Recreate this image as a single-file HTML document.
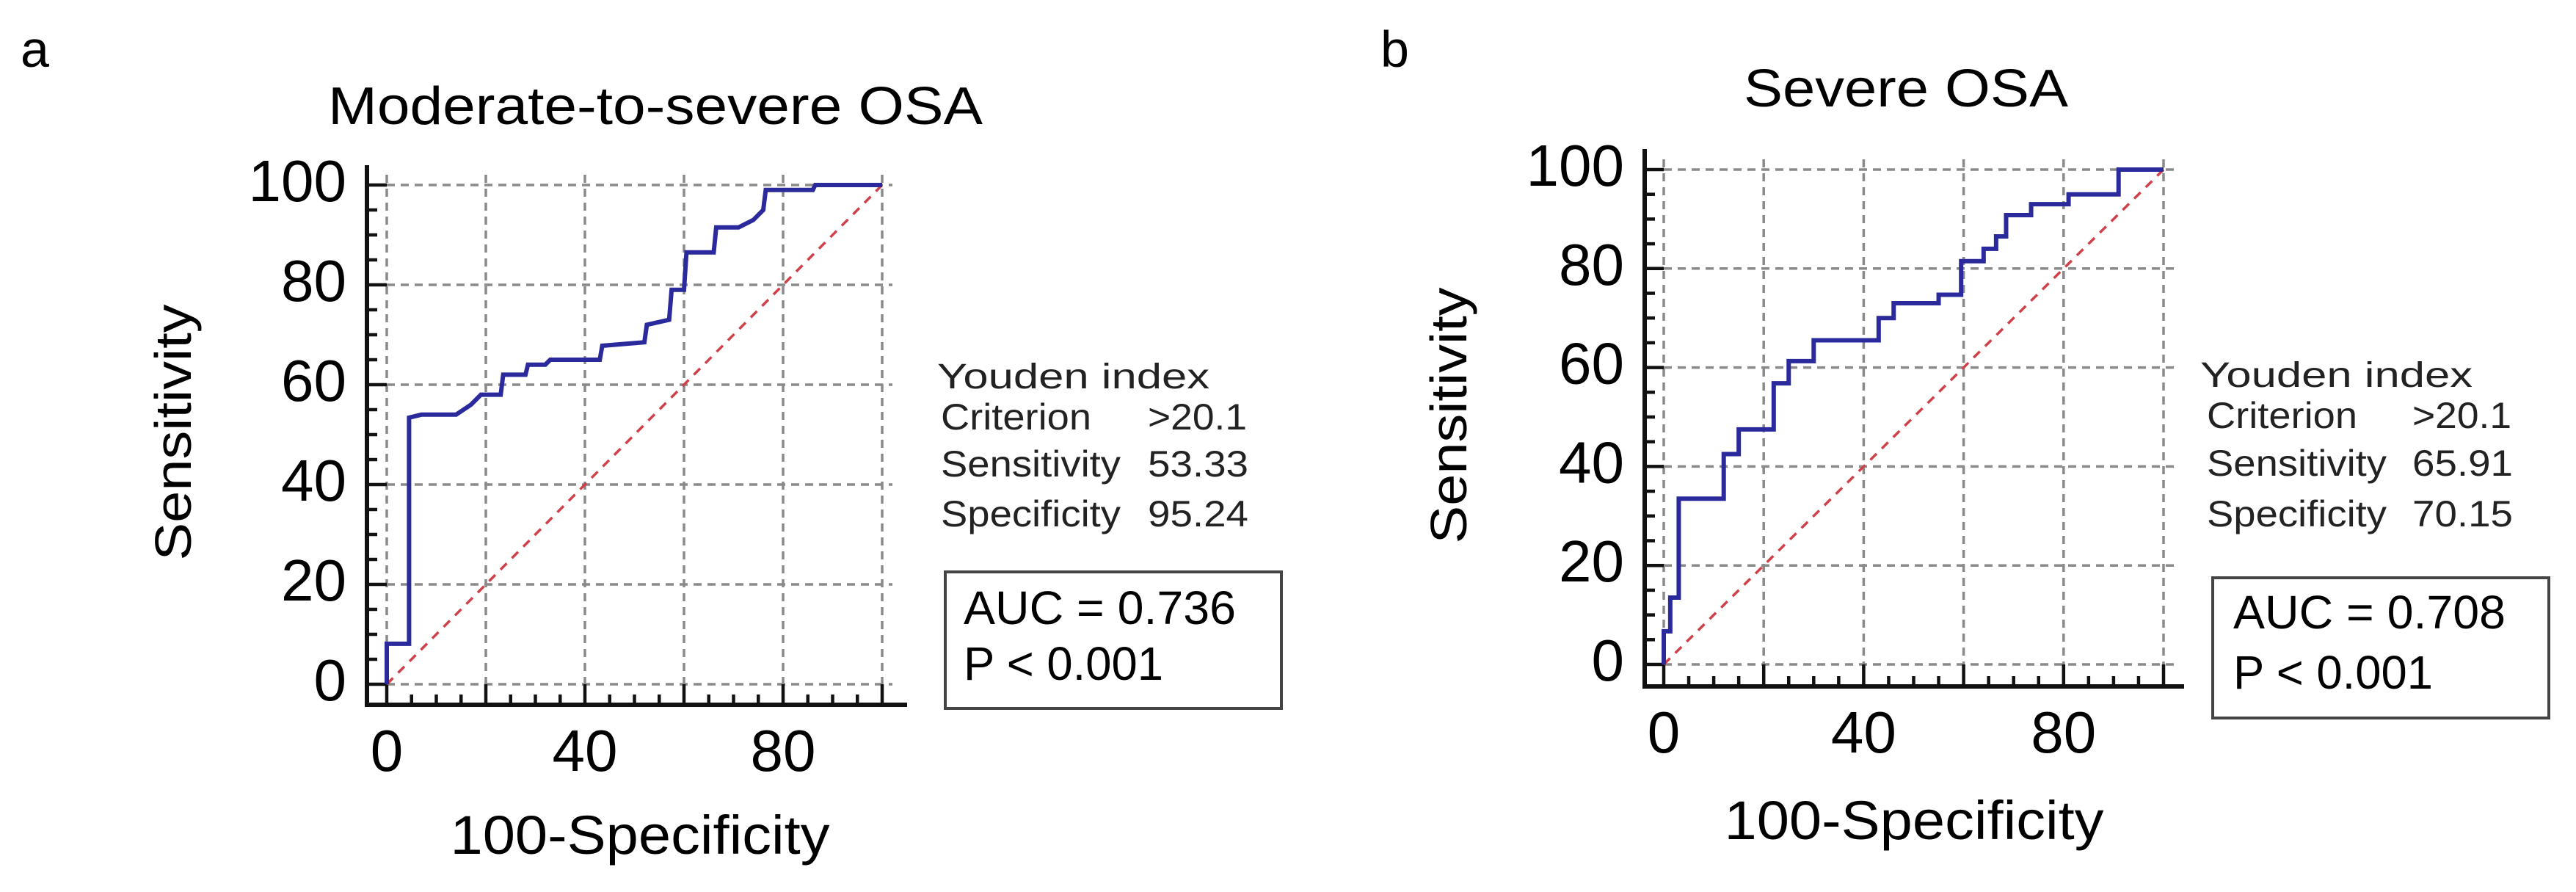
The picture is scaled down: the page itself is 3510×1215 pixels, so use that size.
<!DOCTYPE html>
<html><head><meta charset="utf-8"><style>
html,body{margin:0;padding:0;background:#fff;}
svg{display:block;font-family:"Liberation Sans",Arial,sans-serif;}
</style></head><body>
<svg id="fig" width="3510" height="1215" viewBox="0 0 3510 1215">
<rect width="3510" height="1215" fill="#fff"/>
<text x="28" y="91" font-size="70">a</text>
<text x="447" y="169" font-size="72" textLength="892" lengthAdjust="spacingAndGlyphs">Moderate-to-severe OSA</text>
<text transform="translate(260,589) rotate(-90)" text-anchor="middle" font-size="70" textLength="349" lengthAdjust="spacingAndGlyphs">Sensitivity</text>
<text x="872" y="1163" text-anchor="middle" font-size="74" textLength="517" lengthAdjust="spacingAndGlyphs">100-Specificity</text>
<g fill="#222">
<text x="1277" y="529" font-size="48" textLength="371" lengthAdjust="spacingAndGlyphs">Youden index</text>
<text x="1282" y="585" font-size="50" textLength="205" lengthAdjust="spacingAndGlyphs">Criterion</text>
<text x="1564" y="585" font-size="50" textLength="135" lengthAdjust="spacingAndGlyphs">&gt;20.1</text>
<text x="1282" y="649" font-size="50" textLength="245" lengthAdjust="spacingAndGlyphs">Sensitivity</text>
<text x="1564" y="649" font-size="50" textLength="137" lengthAdjust="spacingAndGlyphs">53.33</text>
<text x="1282" y="717" font-size="50" textLength="245" lengthAdjust="spacingAndGlyphs">Specificity</text>
<text x="1564" y="717" font-size="50" textLength="137" lengthAdjust="spacingAndGlyphs">95.24</text>
</g>
<g>
<rect x="1288" y="779" width="458" height="186" fill="none" stroke="#444" stroke-width="4"/>
<text x="1313" y="850" font-size="64" textLength="371" lengthAdjust="spacingAndGlyphs">AUC = 0.736</text>
<text x="1313" y="926" font-size="64" textLength="272" lengthAdjust="spacingAndGlyphs">P &lt; 0.001</text>
</g>
<text x="1881" y="91" font-size="70">b</text>
<text x="2376" y="145" font-size="72" textLength="442" lengthAdjust="spacingAndGlyphs">Severe OSA</text>
<text transform="translate(1998,566) rotate(-90)" text-anchor="middle" font-size="70" textLength="349" lengthAdjust="spacingAndGlyphs">Sensitivity</text>
<text x="2608" y="1143" text-anchor="middle" font-size="74" textLength="517" lengthAdjust="spacingAndGlyphs">100-Specificity</text>
<g fill="#222">
<text x="2998" y="527" font-size="48" textLength="371" lengthAdjust="spacingAndGlyphs">Youden index</text>
<text x="3007" y="583" font-size="50" textLength="205" lengthAdjust="spacingAndGlyphs">Criterion</text>
<text x="3287" y="583" font-size="50" textLength="135" lengthAdjust="spacingAndGlyphs">&gt;20.1</text>
<text x="3007" y="648" font-size="50" textLength="245" lengthAdjust="spacingAndGlyphs">Sensitivity</text>
<text x="3287" y="648" font-size="50" textLength="137" lengthAdjust="spacingAndGlyphs">65.91</text>
<text x="3007" y="717" font-size="50" textLength="245" lengthAdjust="spacingAndGlyphs">Specificity</text>
<text x="3287" y="717" font-size="50" textLength="137" lengthAdjust="spacingAndGlyphs">70.15</text>
</g>
<g>
<rect x="3015" y="787" width="458" height="191" fill="none" stroke="#444" stroke-width="4"/>
<text x="3043" y="856" font-size="64" textLength="371" lengthAdjust="spacingAndGlyphs">AUC = 0.708</text>
<text x="3043" y="938" font-size="64" textLength="272" lengthAdjust="spacingAndGlyphs">P &lt; 0.001</text>
</g>
<g id="plots"></g>
</svg>
<script>
var yTicks = [0, 20, 40, 60, 80, 100];
var xTickLabels = [0, 40, 80];
var gridValues = [0, 20, 40, 60, 80, 100];
var fprA = [0,0,4.5,4.5,7,14,17,19,23,23.5,28,28.5,32,33,43,43.5,52,52.5,57,57.5,60,60.5,66,66.5,71,74,76,76.5,86,86.5,100];
var tprA = [0,8.1,8.1,53.4,54,54,56,58,58,62,62,64,64,65,65,67.8,68.5,72,73,79,79,86.5,86.5,91.5,91.5,93,95,99,99,100,100];
var fprB = [0,0,1.3,1.3,3,3,12,12,15,15,22,22,25,25,30,30,43,43,46,46,55,55,59.5,59.5,64,64,66.5,66.5,68.5,68.5,73.5,73.5,81,81,91,91,100];
var tprB = [0,6.7,6.7,13.5,13.5,33.5,33.5,42.5,42.5,47.5,47.5,56.8,56.8,61.3,61.3,65.5,65.5,70,70,73,73,74.7,74.7,81.5,81.5,84,84,86.5,86.5,90.8,90.8,93,93,95,95,100,100];

var NS = "http://www.w3.org/2000/svg";
var root = document.getElementById('plots');
function mk(tag, attrs, parent) {
  var e = document.createElementNS(NS, tag);
  for (var k in attrs) e.setAttribute(k, attrs[k]);
  (parent || root).appendChild(e);
  return e;
}
function drawPanel(p, fpr, tpr, id) {
  var g = mk('g', {});
  
  
  function sx(v) { return p.x0 + (p.x100 - p.x0) * v / 100; }
  function sy(v) { return p.y0 + (p.y100 - p.y0) * v / 100; }
  gridValues.forEach(function (v) {
    var h = mk('line', {x1: sx(0), x2: sx(100) + 14, y1: sy(v), y2: sy(v), stroke: '#8a8a8a', 'stroke-width': 3.5, 'stroke-dasharray': '11 8'}, g);
    
    
    var vl = mk('line', {x1: sx(v), x2: sx(v), y1: sy(100) - 14, y2: sy(0), stroke: '#8a8a8a', 'stroke-width': 3.5, 'stroke-dasharray': '11 8'}, g);
    
    
  });
  var ya = mk('line', {x1: p.ax, x2: p.ax, y1: p.atop, y2: p.ab + 3, stroke: '#111', 'stroke-width': 6}, g);
  
  
  var xa = mk('line', {x1: p.ax - 3, x2: p.aright, y1: p.ab, y2: p.ab, stroke: '#111', 'stroke-width': 6}, g);
  
  
  for (var v = 0; v <= 100; v += 5) {
    var major = v % 20 === 0;
    mk('line', {x1: p.ax, x2: major ? sx(0) : p.ax + 14, y1: sy(v), y2: sy(v), stroke: '#111', 'stroke-width': 4.5}, g);
    mk('line', {x1: sx(v), x2: sx(v), y1: p.ab, y2: major ? sy(0) : p.ab - 14, stroke: '#111', 'stroke-width': 4.5}, g);
  }
  yTicks.forEach(function (v) {
    var t = mk('text', {x: p.ax - 28, y: sy(v) + 22, 'text-anchor': 'end', 'font-size': 80}, g);
    
    
    t.textContent = v;
  });
  xTickLabels.forEach(function (v) {
    var t = mk('text', {x: sx(v), y: p.ab + 90, 'text-anchor': 'middle', 'font-size': 80}, g);
    
    
    t.textContent = v;
  });
  var d = mk('line', {x1: sx(0), y1: sy(0), x2: sx(100), y2: sy(100), stroke: '#d0404a', 'stroke-width': 3.5, 'stroke-dasharray': '12 10'}, g);
  
  
  var pts = fpr.map(function (f, i) { return sx(f) + ',' + sy(tpr[i]); }).join(' ');
  var c = mk('polyline', {points: pts, fill: 'none', stroke: '#2a2a9c', 'stroke-width': 6, 'stroke-linejoin': 'miter'}, g);
  
  
}
drawPanel({x0: 527, x100: 1202, y0: 932, y100: 252, ax: 500, atop: 225, ab: 960, aright: 1236}, fprA, tprA, 'a');
drawPanel({x0: 2267, x100: 2948, y0: 905, y100: 231, ax: 2241, atop: 203, ab: 935, aright: 2976}, fprB, tprB, 'b');
</script>
</body></html>
